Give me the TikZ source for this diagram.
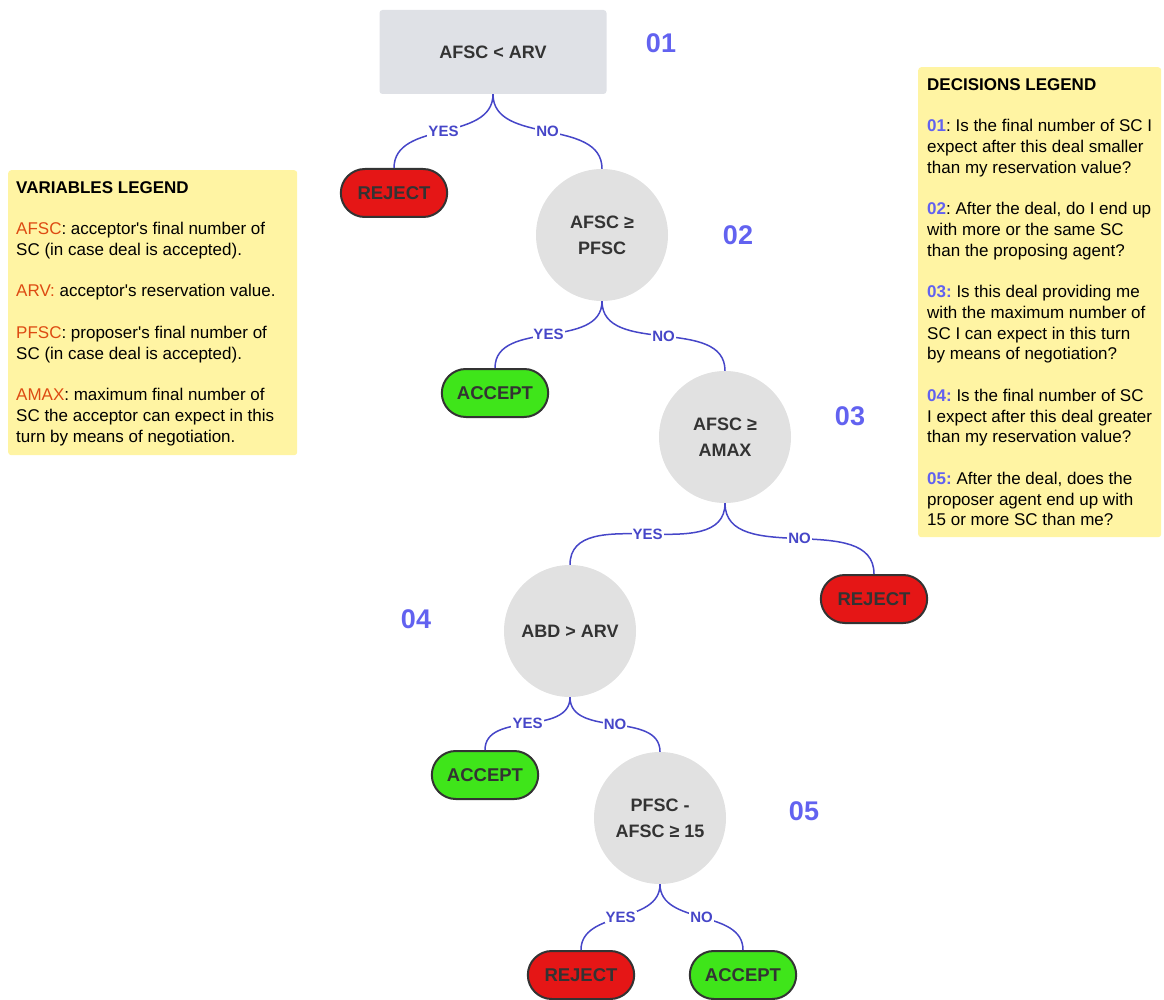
\documentclass[tikz,border=0pt]{standalone}
\usepackage{fontspec}
\setmainfont{Liberation Sans}
\frenchspacing
\usetikzlibrary{shapes.misc}
\definecolor{rectfill}{HTML}{DFE1E6}
\definecolor{circfill}{HTML}{E1E1E1}
\definecolor{rejred}{HTML}{E51616}
\definecolor{accgreen}{HTML}{3FE51A}
\definecolor{bordgray}{HTML}{333333}
\definecolor{numblue}{HTML}{6262F0}
\definecolor{linkblue}{HTML}{4646C8}
\definecolor{legfill}{HTML}{FFF4A3}
\definecolor{varorange}{HTML}{DD4A12}
\definecolor{txtdark}{HTML}{333333}
\tikzset{
  rootbox/.style={rectangle, rounded corners=3pt, fill=rectfill, minimum width=227pt, minimum height=84pt, font=\fontsize{18}{22}\selectfont\bfseries, text=txtdark},
  decc/.style={circle, fill=circfill, minimum size=132pt, inner sep=0pt, align=center, font=\fontsize{18}{26}\selectfont\bfseries, text=txtdark},
  term/.style={rounded rectangle, draw=bordgray, line width=2pt, minimum width=113pt, minimum height=48pt, font=\fontsize{18.5}{22}\selectfont\bfseries, text=txtdark},
  rejterm/.style={term, fill=rejred},
  accterm/.style={term, fill=accgreen},
  conn/.style={draw=linkblue, line width=1.5pt},
  lab/.style={font=\fontsize{15}{16}\selectfont\bfseries, text=linkblue, fill=white, inner sep=1pt},
  num/.style={font=\fontsize{27}{30}\selectfont\bfseries, text=numblue, inner sep=0pt},
  legbox/.style={rectangle, rounded corners=3pt, fill=legfill, inner sep=0pt},
  legtext/.style={align=left, inner sep=0pt, font=\fontsize{17}{20.75}\selectfont},
}
\newcommand{\vn}[1]{\textcolor{varorange}{#1}}
\newcommand{\dn}[1]{\textcolor{numblue}{\bfseries #1}}
\newcommand{\apos}{\textquotesingle}
\begin{document}
\begin{tikzpicture}[x=1pt,y=-1pt]
\useasboundingbox (0,0) rectangle (1164,1000);

% decision nodes
\node[rootbox] (d1) at (493,52) {AFSC < ARV};
\node[decc] (d2) at (602,235) {AFSC ≥\\PFSC};
\node[decc] (d3) at (725,437) {AFSC ≥\\AMAX};
\node[decc] (d4) at (570,631) {ABD > ARV};
\node[decc] (d5) at (660,818) {PFSC -\\AFSC ≥ 15};

% terminals
\node[rejterm] (r1) at (394,193) {REJECT};
\node[accterm] (a1) at (495,393) {ACCEPT};
\node[rejterm] (r2) at (874,599) {REJECT};
\node[accterm] (a2) at (485,775) {ACCEPT};
\node[rejterm] (r3) at (581,975) {REJECT};
\node[accterm] (a3) at (743,975) {ACCEPT};

% numbers
\node[num] (n1) at (661,43) {01};
\node[num] (n2) at (738,235) {02};
\node[num] (n3) at (850,416) {03};
\node[num] (n4) at (416,619) {04};
\node[num] (n5) at (804,811) {05};

% connectors
\draw[conn] (d1.south) to[out=-90,in=90] node[lab] (l1y) {YES} (r1.north);
\draw[conn] (d1.south) to[out=-90,in=90] node[lab] (l1n) {NO} (d2.north);
\draw[conn] (d2.south) to[out=-90,in=90] node[lab] (l2y) {YES} (a1.north);
\draw[conn] (d2.south) to[out=-90,in=90] node[lab] (l2n) {NO} (d3.north);
\draw[conn] (d3.south) to[out=-90,in=90] node[lab] (l3y) {YES} (d4.north);
\draw[conn] (d3.south) to[out=-90,in=90] node[lab] (l3n) {NO} (r2.north);
\draw[conn] (d4.south) to[out=-90,in=90] node[lab] (l4y) {YES} (a2.north);
\draw[conn] (d4.south) to[out=-90,in=90] node[lab] (l4n) {NO} (d5.north);
\draw[conn] (d5.south) to[out=-90,in=90] node[lab] (l5y) {YES} (r3.north);
\draw[conn] (d5.south) to[out=-90,in=90] node[lab] (l5n) {NO} (a3.north);

% variables legend
\node[legbox, minimum width=289pt, minimum height=285pt, anchor=north west] (varbox) at (8,170) {};
\node[legtext, anchor=north west] (vartext) at (16,181) {%
\textbf{VARIABLES LEGEND}\\[20.75pt]
\vn{AFSC}: acceptor\apos s final number of\\
SC (in case deal is accepted).\\[20.75pt]
\vn{ARV:} acceptor\apos s reservation value.\\[20.75pt]
\vn{PFSC}: proposer\apos s final number of\\
SC (in case deal is accepted).\\[20.75pt]
\vn{AMAX}: maximum final number of\\
SC the acceptor can expect in this\\
turn by means of negotiation.};

% decisions legend
\node[legbox, minimum width=243pt, minimum height=470pt, anchor=north west] (decbox) at (918,67) {};
\node[legtext, anchor=north west] (dectext) at (927,78) {%
\textbf{DECISIONS LEGEND}\\[20.75pt]
\dn{01}: Is the final number of SC I\\
expect after this deal smaller\\
than my reservation value?\\[20.75pt]
\dn{02}: After the deal, do I end up\\
with more or the same SC\\
than the proposing agent?\\[20.75pt]
\dn{03:} Is this deal providing me\\
with the maximum number of\\
SC I can expect in this turn\\
by means of negotiation?\\[20.75pt]
\dn{04:} Is the final number of SC\\
I expect after this deal greater\\
than my reservation value?\\[20.75pt]
\dn{05:} After the deal, does the\\
proposer agent end up with\\
15 or more SC than me?};
\end{tikzpicture}
\end{document}
